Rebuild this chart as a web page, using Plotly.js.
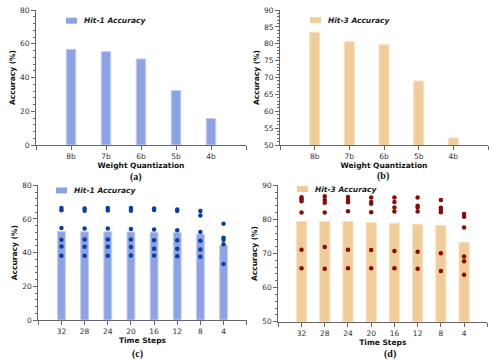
<!DOCTYPE html>
<html>
<head>
<meta charset="utf-8">
<script src="https://cdn.plot.ly/plotly-3.0.1.min.js"></script>
<style>
  html, body { margin: 0; padding: 0; background: #fff; }
  #chart { width: 499px; height: 362px; }
</style>
</head>
<body>
<div id="chart"></div>
<script>
// weight quantization panels
var quantLabels = ['8b', '7b', '6b', '5b', '4b'];
var hit1Quant = [56.7, 55.3, 51.0, 32.3, 15.7];
var hit3Quant = [83.4, 80.6, 79.7, 69.0, 52.1];

// time step panels
var stepLabels = ['32', '28', '24', '20', '16', '12', '8', '4'];
var hit1Steps = [52.5, 52.4, 52.4, 52.3, 52.1, 51.9, 51.0, 44.3];
var hit3Steps = [79.4, 79.4, 79.4, 79.1, 78.9, 78.6, 78.2, 73.3];

// individual runs shown as dots
var hit1Runs = [
  [66.5, 65.2, 54.7, 47.6, 43.7, 38.1],
  [66.2, 64.9, 54.3, 47.8, 43.5, 38.1],
  [66.5, 65.0, 54.3, 47.8, 43.5, 38.1],
  [66.5, 64.9, 54.0, 47.8, 43.3, 38.3],
  [66.2, 65.4, 53.7, 47.4, 42.3, 38.3],
  [65.6, 64.8, 53.3, 47.4, 42.3, 37.9],
  [64.8, 62.0, 52.3, 47.0, 41.9, 37.5],
  [57.1, 48.8, 47.6, 45.0, 33.2]
];
var hit3Runs = [
  [86.5, 85.9, 85.3, 82.0, 71.1, 65.7],
  [86.8, 85.7, 84.9, 82.0, 71.9, 65.5],
  [86.6, 85.7, 85.0, 82.4, 71.1, 65.7],
  [86.4, 85.1, 84.6, 82.1, 71.0, 65.7],
  [86.4, 85.1, 83.5, 82.3, 70.7, 65.7],
  [86.4, 84.0, 83.5, 82.3, 70.5, 65.5],
  [85.7, 83.4, 82.8, 82.1, 70.1, 64.9],
  [81.6, 80.8, 77.6, 69.1, 67.7, 63.8]
];

var blue = '#8ea2e6';
var tan = '#f0cd98';
var W = 499, H = 362;
function px(x) { return x / W; }
function py(y) { return 1 - y / H; }

function idx(arr) { return arr.map(function (d, i) { return i; }); }

var traces = [];
traces.push({ type: 'bar', x: idx(quantLabels), y: hit1Quant, width: 0.27,
  marker: { color: blue, line: { color: '#c3cdf3', width: 1 } }, xaxis: 'x', yaxis: 'y', showlegend: false });
traces.push({ type: 'bar', x: idx(quantLabels), y: hit3Quant, width: 0.29,
  marker: { color: tan, line: { color: '#f8e3c3', width: 1 } }, xaxis: 'x2', yaxis: 'y2', showlegend: false });
traces.push({ type: 'bar', x: idx(stepLabels), y: hit1Steps, width: 0.34,
  marker: { color: blue, line: { color: '#c3cdf3', width: 1 } }, xaxis: 'x3', yaxis: 'y3', showlegend: false });
traces.push({ type: 'bar', x: idx(stepLabels), y: hit3Steps, width: 0.44,
  marker: { color: tan, line: { color: '#f8e3c3', width: 1 } }, xaxis: 'x4', yaxis: 'y4', showlegend: false });

function dots(runs, color, xa, ya) {
  var xs = [], ys = [];
  runs.forEach(function (r, i) {
    r.forEach(function (v) { xs.push(i); ys.push(v); });
  });
  return { type: 'scatter', mode: 'markers', x: xs, y: ys, xaxis: xa, yaxis: ya,
    marker: { color: color, size: 4.5 }, showlegend: false, cliponaxis: false };
}
traces.push(dots(hit1Runs, '#0b3fa6', 'x3', 'y3'));
traces.push(dots(hit3Runs, '#8b0a0a', 'x4', 'y4'));

var tickFont = { family: 'DejaVu Sans', size: 7.5, color: '#333' };
var titleFont = { family: 'DejaVu Sans', size: 7.5, color: '#111', weight: 'bold' };

function xAxis(labels, dom, yid, title) {
  var vals = [-1].concat(idx(labels)).concat([labels.length]);
  var text = [''].concat(labels).concat(['']);
  return {
    domain: dom, anchor: yid, range: [-1, labels.length], showgrid: false, zeroline: false,
    showline: true, linecolor: '#666', linewidth: 1,
    tickmode: 'array', tickvals: vals, ticktext: text, ticks: 'outside', ticklen: 4, tickcolor: '#666',
    tickfont: tickFont, title: { text: title, font: titleFont, standoff: 2 }
  };
}
function yAxis(range, dtick, minor, dom, xid) {
  return {
    domain: dom, anchor: xid, range: range, dtick: dtick, showgrid: false, zeroline: false,
    showline: true, linecolor: '#666', linewidth: 1, ticks: 'outside', ticklen: 4, tickcolor: '#666',
    minor: { dtick: minor, ticks: 'outside', ticklen: 2, tickcolor: '#666', showgrid: false },
    tickfont: tickFont, title: { text: 'Accuracy (%)', font: titleFont, standoff: 3 }
  };
}

var rowTop = [py(145), py(10)];
var rowBot = [py(320), py(185.3)];

var layout = {
  width: W, height: H, margin: { l: 0, r: 0, t: 0, b: 0 },
  paper_bgcolor: '#fff', plot_bgcolor: '#fff', showlegend: false, bargap: 0,
  xaxis: xAxis(quantLabels, [px(36), px(246)], 'y', 'Weight Quantization'),
  yaxis: yAxis([0, 80], 20, 4, rowTop, 'x'),
  xaxis2: xAxis(quantLabels, [px(280), px(488)], 'y2', 'Weight Quantization'),
  yaxis2: yAxis([50, 90], 5, 1, rowTop, 'x2'),
  xaxis3: xAxis(stepLabels, [px(38.3), px(246.7)], 'y3', 'Time Steps'),
  yaxis3: yAxis([0, 80], 20, 4, rowBot, 'x3'),
  xaxis4: xAxis(stepLabels, [px(278.3), px(487.3)], 'y4', 'Time Steps'),
  yaxis4: yAxis([50, 90], 10, 2, [py(321.7), py(185.3)], 'x4'),
  shapes: [], annotations: []
};

// legend keys and panel captions
var legends = [
  { x: 66, y: 20.7, text: 'Hit-1 Accuracy', color: blue },
  { x: 310, y: 20.2, text: 'Hit-3 Accuracy', color: tan },
  { x: 56, y: 190.5, text: 'Hit-1 Accuracy', color: blue },
  { x: 297, y: 189, text: 'Hit-3 Accuracy', color: tan }
];
legends.forEach(function (l) {
  layout.shapes.push({ type: 'rect', xref: 'paper', yref: 'paper', x0: px(l.x), x1: px(l.x + 11),
    y0: py(l.y + 3), y1: py(l.y - 3), fillcolor: l.color, line: { width: 0 } });
  layout.annotations.push({ xref: 'paper', yref: 'paper', x: px(l.x + 16), y: py(l.y), xanchor: 'left', yanchor: 'middle',
    showarrow: false, text: '<b><i>' + l.text + '</i></b>', font: { family: 'DejaVu Sans', size: 7.5, color: '#222' } });
});
var captions = [['(a)', 136, 177], ['(b)', 383, 176.5], ['(c)', 137.5, 353.5], ['(d)', 390, 354]];
captions.forEach(function (c) {
  layout.annotations.push({ xref: 'paper', yref: 'paper', x: px(c[1]), y: py(c[2]), xanchor: 'center', yanchor: 'middle',
    showarrow: false, text: '<b>' + c[0] + '</b>', font: { family: 'Liberation Serif', size: 10, color: '#111' } });
});

Plotly.newPlot('chart', traces, layout, { staticPlot: true });
</script>
</body>
</html>
